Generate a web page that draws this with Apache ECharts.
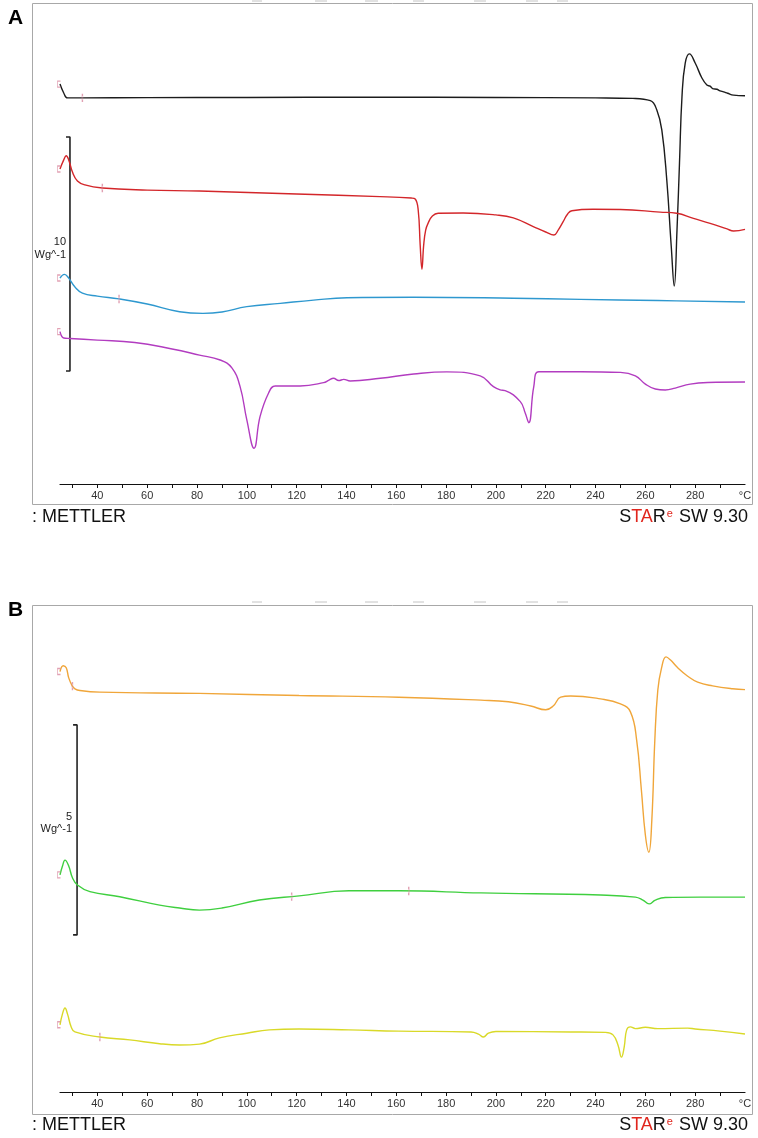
<!DOCTYPE html>
<html>
<head>
<meta charset="utf-8">
<script src="https://cdn.jsdelivr.net/npm/echarts@6/dist/echarts.min.js"></script>
<style>
  html, body { margin: 0; padding: 0; background: #fff; }
  #chart { width: 758px; height: 1138px; }
</style>
</head>
<body>
<div id="chart"></div>
<script>
// temperature axis (deg C)
var tickTemps = [30, 40, 50, 60, 70, 80, 90, 100, 110, 120, 130, 140, 150, 160, 170, 180, 190, 200, 210, 220, 230, 240, 250, 260, 270, 280, 290];
var labelTemps = [40, 60, 80, 100, 120, 140, 160, 180, 200, 220, 240, 260, 280, 300];
var unitLabel = '°C';

// panel A, heat flow in W/g (curves stacked with offsets)
var blackT = [25, 26.5, 28, 34, 60, 100, 150, 200, 240, 255, 262, 264.6, 266.6, 268.6, 270.4, 271.6, 272.7, 273.7, 274.7, 276, 277.7, 280, 282.7, 284.7, 286, 287, 288.7, 290, 291.4, 293, 295.4, 300];
var blackV = [17.09, 16.71, 16.50, 16.50, 16.51, 16.52, 16.53, 16.52, 16.50, 16.48, 16.38, 15.98, 15.13, 12.99, 10.14, 8.46, 10.85, 13.72, 16.55, 17.99, 18.38, 17.99, 17.35, 17.05, 17.00, 16.90, 16.87, 16.80, 16.76, 16.70, 16.62, 16.59];

var redT = [25, 26.5, 27.5, 28.5, 30, 32, 35, 42, 60, 81, 120, 153.5, 166, 167.6, 168.8, 169.6, 170.3, 171, 171.8, 172.8, 174.5, 176.8, 186.9, 200, 207, 215, 220, 223.3, 225, 227, 228.8, 230.5, 239, 250, 265.9, 272.6, 279.3, 286, 292.8, 295.4, 300];
var redV = [13.46, 13.85, 14.03, 13.85, 13.33, 12.95, 12.78, 12.65, 12.56, 12.52, 12.39, 12.28, 12.22, 12.18, 11.71, 10.21, 9.18, 10.21, 10.85, 11.15, 11.45, 11.57, 11.58, 11.50, 11.37, 11.00, 10.77, 10.64, 10.85, 11.21, 11.54, 11.68, 11.74, 11.73, 11.62, 11.57, 11.35, 11.14, 10.90, 10.81, 10.88];

var blueT = [25, 26.8, 28.5, 31, 34, 40, 48.7, 60, 73, 82.4, 90, 100, 113.4, 126.8, 140.2, 167, 207, 234, 265, 300];
var blueV = [8.80, 8.96, 8.80, 8.42, 8.16, 8.03, 7.91, 7.69, 7.36, 7.29, 7.35, 7.58, 7.72, 7.86, 7.96, 7.98, 7.94, 7.89, 7.84, 7.78];

var purpleT = [25, 26.5, 29, 40, 55, 70, 81, 89.3, 94, 97.3, 100, 102.9, 105.3, 108.7, 111.4, 121.4, 130.8, 133, 134.8, 136.9, 138.9, 141.5, 153.6, 167, 180.3, 193.7, 199, 201.7, 203.7, 209.8, 211.8, 213.2, 215.2, 217.2, 234, 250, 256, 260, 264, 268, 272, 278, 285, 300];
var purpleV = [6.51, 6.24, 6.22, 6.15, 6.05, 5.77, 5.51, 5.30, 4.96, 4.16, 2.74, 1.53, 2.88, 3.88, 4.19, 4.19, 4.33, 4.44, 4.52, 4.42, 4.47, 4.40, 4.52, 4.70, 4.79, 4.62, 4.16, 4.02, 3.99, 3.52, 3.02, 2.62, 4.16, 4.80, 4.80, 4.77, 4.62, 4.27, 4.06, 4.02, 4.10, 4.27, 4.34, 4.36];

// panel B
var orangeT = [25, 26.3, 27.5, 28.5, 29.9, 31, 33, 41, 81, 121, 161, 194, 205, 214, 220, 223, 226, 230, 242, 250, 254, 256.5, 258.4, 260, 261.4, 262.6, 263.8, 265, 266.5, 268.3, 270, 273, 277, 281, 287, 295, 300];
var orangeV = [10.01, 10.15, 10.10, 9.86, 9.67, 9.60, 9.56, 9.52, 9.49, 9.44, 9.40, 9.33, 9.29, 9.19, 9.10, 9.19, 9.40, 9.43, 9.36, 9.24, 9.05, 8.38, 7.19, 6.12, 5.71, 6.48, 8.38, 9.57, 10.10, 10.36, 10.29, 10.10, 9.90, 9.76, 9.67, 9.60, 9.58];

var greenT = [25, 26, 27, 28.5, 30, 32, 37, 49, 65, 73, 81, 90, 105, 121, 141, 161, 194, 242, 256, 259, 261.5, 264, 268, 282, 300];
var greenV = [5.17, 5.38, 5.52, 5.38, 5.10, 4.93, 4.77, 4.65, 4.45, 4.38, 4.33, 4.38, 4.57, 4.67, 4.79, 4.79, 4.74, 4.69, 4.64, 4.57, 4.48, 4.57, 4.63, 4.64, 4.64];

var yellowT = [25, 26, 27, 28, 29.5, 31, 41, 53, 65, 73, 81, 89, 100, 109, 121, 141, 161, 190, 193, 195, 197, 200, 230, 244, 247, 249, 250.4, 251.5, 252.5, 254, 256, 260, 265, 277, 280, 290, 300];
var yellowV = [1.60, 1.86, 2.00, 1.86, 1.55, 1.43, 1.31, 1.24, 1.15, 1.12, 1.14, 1.29, 1.40, 1.48, 1.50, 1.48, 1.45, 1.43, 1.38, 1.31, 1.40, 1.44, 1.43, 1.42, 1.36, 1.12, 0.83, 1.07, 1.48, 1.55, 1.51, 1.54, 1.51, 1.52, 1.50, 1.45, 1.38];

// little evaluation ticks on the curves (deg C)
var blackTicks = [34];
var redTicks = [42];
var blueTicks = [48.7];
var orangeTicks = [30];
var greenTicks = [118, 165];
var yellowTicks = [41];

// scale bars: [temperature, lower value, size in W/g]
var scaleA = [29, 4.83, 10];
var scaleB = [31.85, 3.74, 5];

var chart = echarts.init(document.getElementById('chart'));
var FONT = '"Liberation Sans", Arial, Helvetica, sans-serif';

var zip = function (ts, vs) {
    return ts.map(function (t, i) { return [t, vs[i]]; });
};

var valueAt = function (ts, vs, t) {
    for (var i = 1; i < ts.length; i++) {
        if (t <= ts[i]) {
            var f = (t - ts[i - 1]) / (ts[i] - ts[i - 1]);
            return vs[i - 1] + f * (vs[i] - vs[i - 1]);
        }
    }
    return vs[vs.length - 1];
};

var series = [];
var addCurve = function (ts, vs, color, ticks, idx) {
    series.push({
        type: 'line',
        xAxisIndex: idx,
        yAxisIndex: idx,
        data: zip(ts, vs),
        showSymbol: false,
        smooth: 0.45,
        lineStyle: { color: color, width: 1.4 },
        silent: true,
        z: 3
    });
    var marks = ticks.map(function (t) {
        return { value: [t, valueAt(ts, vs, t)], symbol: 'rect', symbolSize: [1, 6] };
    });
    marks.push({
        value: [ts[0], vs[0]],
        symbol: 'path://M3,0 L0,0 L0,10 L3,10',
        symbolSize: [3, 6],
        symbolOffset: [-1, 0]
    });
    series.push({
        type: 'scatter',
        xAxisIndex: idx,
        yAxisIndex: idx,
        data: marks,
        itemStyle: { color: 'none', borderColor: '#d98aa0', borderWidth: 1 },
        silent: true,
        z: 4
    });
};

addCurve(blackT, blackV, '#1c1c1c', blackTicks, 0);
addCurve(redT, redV, '#d3262a', redTicks, 0);
addCurve(blueT, blueV, '#2e98cf', blueTicks, 0);
addCurve(purpleT, purpleV, '#b23cc0', [], 0);
addCurve(orangeT, orangeV, '#f0a63a', orangeTicks, 1);
addCurve(greenT, greenV, '#3fcf3f', greenTicks, 1);
addCurve(yellowT, yellowV, '#d9d928', yellowTicks, 1);

var addScale = function (s, idx) {
    var t = s[0], lo = s[1], hi = s[1] + s[2], w = 1.6;
    series.push({
        type: 'line',
        xAxisIndex: idx,
        yAxisIndex: idx,
        data: [[t - w, hi], [t, hi], [t, lo], [t - w, lo]],
        showSymbol: false,
        lineStyle: { color: '#222', width: 1.6 },
        silent: true,
        z: 2
    });
};
addScale(scaleA, 0);
addScale(scaleB, 1);

var makeXAxis = function (idx) {
    return {
        type: 'value',
        gridIndex: idx,
        min: 25,
        max: 300,
        axisLine: { show: true, lineStyle: { color: '#111', width: 1.2 } },
        axisTick: { show: true, customValues: tickTemps, length: 4, lineStyle: { color: '#111' } },
        axisLabel: {
            customValues: labelTemps,
            margin: 6,
            color: '#333',
            fontSize: 11,
            fontFamily: FONT,
            formatter: function (v) { return v === 300 ? unitLabel : String(v); }
        },
        splitLine: { show: false }
    };
};

var makeYAxis = function (idx, max) {
    return { type: 'value', gridIndex: idx, min: 0, max: max, show: false };
};

var footer = function (y) {
    return [{
        type: 'text', left: 32, top: y - 11,
        style: { text: ': METTLER', font: '18px ' + FONT, fill: '#111' }
    }, {
        type: 'text', right: 10, top: y - 11,
        style: {
            text: '{k|S}{r|TA}{k|R}{s|e}{k| SW 9.30}',
            rich: {
                k: { font: '18px ' + FONT, fill: '#111' },
                r: { font: '18px ' + FONT, fill: '#e0261d' },
                s: { font: '11px ' + FONT, fill: '#e0261d', padding: [0, 1, 7, 1] }
            }
        }
    }];
};

var dashes = function (y) {
    var xs = [[252, 262], [315, 327], [365, 378], [413, 424], [474, 486], [526, 538], [557, 568]];
    return xs.map(function (d) {
        return { type: 'line', shape: { x1: d[0], y1: y, x2: d[1], y2: y }, style: { stroke: '#c4c4c4', lineWidth: 1 } };
    });
};

var graphic = [
    { type: 'rect', shape: { x: 32.5, y: 3.5, width: 720, height: 501 }, style: { fill: 'none', stroke: '#a8a8a8', lineWidth: 1 }, z: -1 },
    { type: 'rect', shape: { x: 32.5, y: 605.5, width: 720, height: 509 }, style: { fill: 'none', stroke: '#a8a8a8', lineWidth: 1 }, z: -1 },
    { type: 'text', left: 8, top: 8, style: { text: 'A', font: 'bold 21px ' + FONT, fill: '#000' } },
    { type: 'text', left: 8, top: 600, style: { text: 'B', font: 'bold 21px ' + FONT, fill: '#000' } },
    { type: 'text', right: 758 - 66, top: 236, style: { text: '10', font: '11px ' + FONT, fill: '#222', align: 'right' } },
    { type: 'text', right: 758 - 66, top: 249, style: { text: 'Wg^-1', font: '11px ' + FONT, fill: '#222', align: 'right' } },
    { type: 'text', right: 758 - 72, top: 811, style: { text: '5', font: '11px ' + FONT, fill: '#222', align: 'right' } },
    { type: 'text', right: 758 - 72, top: 823, style: { text: 'Wg^-1', font: '11px ' + FONT, fill: '#222', align: 'right' } }
].concat(footer(519), footer(1127), dashes(1), dashes(602));

chart.setOption({
    animation: false,
    backgroundColor: '#fff',
    grid: [
        { left: 60, top: 16, width: 685, height: 468 },
        { left: 60, top: 630, width: 685, height: 462 }
    ],
    xAxis: [makeXAxis(0), makeXAxis(1)],
    yAxis: [makeYAxis(0, 20), makeYAxis(1, 11)],
    series: series,
    graphic: graphic
});
</script>
</body>
</html>
